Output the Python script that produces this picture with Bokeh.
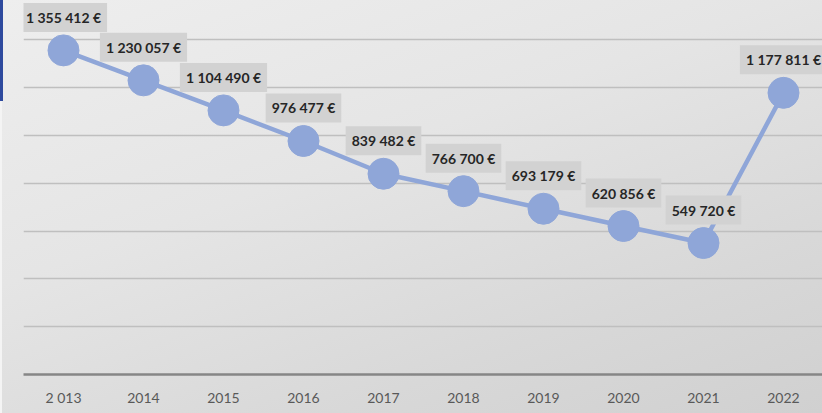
from bokeh.plotting import figure
from bokeh.models import Range1d, FixedTicker, ColumnDataSource
from bokeh.core.properties import value
from bokeh.embed import file_html
from bokeh.resources import INLINE

# ---- data ----
years = ["2 013", "2014", "2015", "2016", "2017", "2018", "2019", "2020", "2021", "2022"]
amounts = [1355412, 1230057, 1104490, 976477, 839482, 766700, 693179, 620856, 549720, 1177811]
amount_labels = ["{:,}".format(a).replace(",", " ") + " €" for a in amounts]
grid_values = [0, 200000, 400000, 600000, 800000, 1000000, 1200000, 1400000]

idx = list(range(len(years)))
src = ColumnDataSource(dict(x=idx, y=amounts, lab=amount_labels))

W, H = 822, 413
p = figure(width=W, height=H, output_backend="svg", toolbar_location=None,
           x_range=Range1d(-0.5, -0.5 + 799 / 80), y_range=Range1d(0, 1564000),
           min_border_left=23, min_border_right=0, min_border_top=0, min_border_bottom=39)
p.background_fill_alpha = 0
p.border_fill_alpha = 0
p.outline_line_color = None
p.styles = {
    "background": "linear-gradient(#2e4a9e, #2e4a9e) 0 0 / 3px 101px no-repeat, "
                  "linear-gradient(#f4f4f4, #f4f4f4) 0 101px / 2px 100% no-repeat, "
                  "linear-gradient(160deg, #eeeeee 0%, #e5e5e5 40%, #d8d8d8 75%, #d0d0d0 100%)"
}

p.yaxis.visible = False
p.xgrid.visible = False
p.ygrid.ticker = FixedTicker(ticks=grid_values)
p.ygrid.grid_line_color = "#bfbfbf"
p.ygrid.grid_line_width = 1.5

ax = p.xaxis[0]
ax.ticker = FixedTicker(ticks=idx)
ax.major_label_overrides = {i: y for i, y in enumerate(years)}
ax.axis_line_color = "#868686"
ax.axis_line_width = 2.5
ax.major_tick_line_color = None
ax.minor_tick_line_color = None
ax.major_label_text_color = "#595959"
ax.major_label_text_font = "Lato"
ax.major_label_text_font_size = "14px"
ax.major_label_standoff = 8

col = "#8fa6d8"
p.line("x", "y", source=src, line_color=col, line_width=4.5)
p.scatter("x", "y", source=src, size=31, fill_color=col, line_color=col)

p.text("x", "y", text="lab", source=src, y_offset=-33,
       text_align="center", text_baseline="middle",
       text_font=value("Lato"), text_font_style="bold", text_font_size="14px",
       text_color="#262626",
       background_fill_color="#d2d2d2", padding=6)

open("out.html", "w").write(file_html(p, INLINE))
